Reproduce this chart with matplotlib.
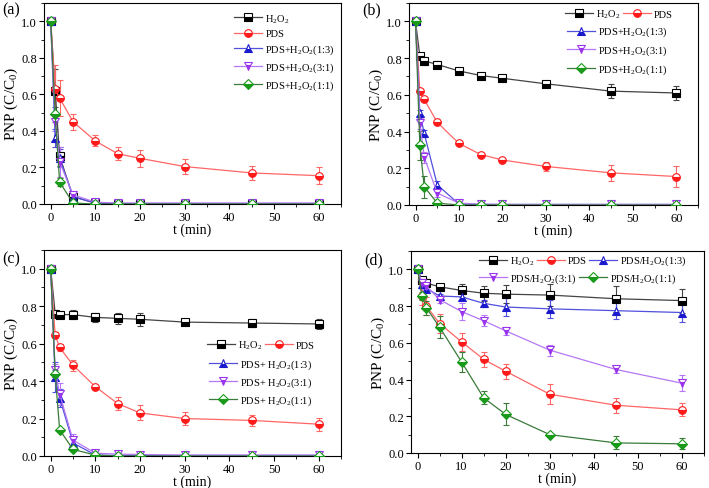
import numpy as np
import matplotlib
matplotlib.use('Agg')
import matplotlib.pyplot as plt
from matplotlib.ticker import MultipleLocator, FormatStrFormatter

plt.rcParams['font.family'] = ['Liberation Serif', 'DejaVu Serif']
plt.rcParams['mathtext.fontset'] = 'custom'
plt.rcParams['mathtext.rm'] = 'Liberation Serif'
plt.rcParams['mathtext.it'] = 'Liberation Serif:italic'

t = [0, 1, 2, 5, 10, 15, 20, 30, 45, 60]

# panel (a)
a_h2o2 = [1.0, 0.62, 0.26, 0.04, 0.005, 0.0, 0.0, 0.0, 0.0, 0.0]
a_h2o2_err = [0, 0.12, 0.05, 0.01, 0, 0, 0, 0, 0, 0]
a_pds = [1.0, 0.63, 0.58, 0.45, 0.345, 0.275, 0.25, 0.205, 0.17, 0.155]
a_pds_err = [0, 0.13, 0.10, 0.045, 0.03, 0.035, 0.045, 0.04, 0.04, 0.045]
a_13 = [1.0, 0.36, 0.25, 0.04, 0.005, 0.003, 0.003, 0.003, 0.003, 0.003]
a_13_err = [0, 0.05, 0.05, 0.01, 0, 0, 0, 0, 0, 0]
a_31 = [1.0, 0.45, 0.23, 0.05, 0.01, 0.005, 0.005, 0.005, 0.005, 0.005]
a_31_err = [0, 0.05, 0.08, 0.01, 0.005, 0, 0, 0, 0, 0]
a_11 = [1.0, 0.49, 0.12, 0.005, 0.0, 0.0, 0.0, 0.0, 0.0, 0.0]
a_11_err = [0, 0.04, 0.02, 0, 0, 0, 0, 0, 0, 0]

# panel (b)
b_h2o2 = [1.0, 0.81, 0.785, 0.765, 0.73, 0.705, 0.69, 0.66, 0.62, 0.61]
b_h2o2_err = [0, 0.02, 0.02, 0.02, 0.015, 0.01, 0.01, 0.01, 0.04, 0.04]
b_pds = [1.0, 0.62, 0.575, 0.45, 0.335, 0.275, 0.245, 0.21, 0.175, 0.155]
b_pds_err = [0, 0.01, 0.01, 0.01, 0.01, 0.01, 0.01, 0.025, 0.045, 0.055]
b_13 = [1.0, 0.50, 0.39, 0.11, 0.005, 0.003, 0.003, 0.003, 0.003, 0.003]
b_13_err = [0, 0.02, 0.02, 0.02, 0.005, 0, 0, 0, 0, 0]
b_31 = [1.0, 0.445, 0.26, 0.065, 0.01, 0.005, 0.003, 0.003, 0.003, 0.003]
b_31_err = [0, 0.03, 0.03, 0.02, 0.005, 0, 0, 0, 0, 0]
b_11 = [1.0, 0.325, 0.10, 0.01, 0.0, 0.0, 0.0, 0.0, 0.0, 0.0]
b_11_err = [0, 0.08, 0.06, 0.005, 0, 0, 0, 0, 0, 0]

# panel (c)
c_h2o2 = [1.0, 0.76, 0.755, 0.755, 0.74, 0.735, 0.73, 0.715, 0.71, 0.705]
c_h2o2_err = [0, 0.02, 0.02, 0.025, 0.025, 0.03, 0.035, 0.015, 0.02, 0.025]
c_pds = [1.0, 0.645, 0.58, 0.485, 0.37, 0.28, 0.23, 0.20, 0.19, 0.17]
c_pds_err = [0, 0.015, 0.02, 0.03, 0.01, 0.035, 0.04, 0.035, 0.03, 0.035]
c_13 = [1.0, 0.42, 0.31, 0.07, 0.005, 0.003, 0.003, 0.003, 0.003, 0.003]
c_13_err = [0, 0.08, 0.05, 0.02, 0.005, 0, 0, 0, 0, 0]
c_31 = [1.0, 0.46, 0.33, 0.085, 0.015, 0.01, 0.008, 0.005, 0.005, 0.005]
c_31_err = [0, 0.03, 0.06, 0.03, 0.01, 0.005, 0.005, 0, 0, 0]
c_11 = [1.0, 0.44, 0.14, 0.035, 0.005, 0.0, 0.0, 0.0, 0.0, 0.0]
c_11_err = [0, 0.02, 0.01, 0.01, 0, 0, 0, 0, 0, 0]

# panel (d)
d_h2o2 = [1.0, 0.94, 0.925, 0.905, 0.885, 0.87, 0.865, 0.86, 0.84, 0.83]
d_h2o2_err = [0, 0.02, 0.02, 0.01, 0.035, 0.04, 0.05, 0.06, 0.07, 0.065]
d_pds = [1.0, 0.855, 0.80, 0.705, 0.605, 0.51, 0.445, 0.32, 0.26, 0.235]
d_pds_err = [0, 0.05, 0.05, 0.05, 0.05, 0.04, 0.04, 0.055, 0.04, 0.035]
d_13 = [1.0, 0.92, 0.895, 0.855, 0.85, 0.815, 0.795, 0.785, 0.775, 0.765]
d_13_err = [0, 0.02, 0.02, 0.01, 0.015, 0.02, 0.05, 0.05, 0.045, 0.05]
d_31 = [1.0, 0.925, 0.91, 0.835, 0.77, 0.72, 0.665, 0.56, 0.455, 0.38]
d_31_err = [0, 0.03, 0.02, 0.02, 0.045, 0.03, 0.02, 0.03, 0.02, 0.045]
d_11 = [1.0, 0.855, 0.79, 0.685, 0.495, 0.30, 0.21, 0.10, 0.055, 0.05]
d_11_err = [0, 0.02, 0.04, 0.06, 0.055, 0.035, 0.06, 0.01, 0.035, 0.03]

colors = ['#000000', '#ff1a1a', '#1a1acc', '#9a33ee', '#1a9a1a']
line_colors = ['#444444', '#ff6666', '#5050dd', '#b577f5', '#3a7a3a']
markers = ['s', 'o', '^', 'v', 'D']

labels_plus = [r'H$_2$O$_2$', 'PDS', r'PDS+H$_2$O$_2$(1:3)', r'PDS+H$_2$O$_2$(3:1)', r'PDS+H$_2$O$_2$(1:1)']
labels_sp = [r'H$_2$O$_2$', 'PDS', r'PDS+ H$_2$O$_2$(1:3)', r'PDS+ H$_2$O$_2$(3:1)', r'PDS+ H$_2$O$_2$(1:1)']
labels_sl = [r'H$_2$O$_2$', 'PDS', r'PDS/H$_2$O$_2$(1:3)', r'PDS/H$_2$O$_2$(3:1)', r'PDS/H$_2$O$_2$(1:1)']

W, H = 709, 489
fig = plt.figure(figsize=(W / 100, H / 100), dpi=100)

# axes boxes in pixels: left, top, right, bottom
boxes = [(44, 4, 341, 205), (409, 4, 698, 206), (44, 251, 341, 457), (411, 252, 704, 454)]
tag_pos = [(2, 2), (362, 2), (2, 251), (364, 252)]

panels = [
    ('(a)', [a_h2o2, a_pds, a_13, a_31, a_11], [a_h2o2_err, a_pds_err, a_13_err, a_31_err, a_11_err]),
    ('(b)', [b_h2o2, b_pds, b_13, b_31, b_11], [b_h2o2_err, b_pds_err, b_13_err, b_31_err, b_11_err]),
    ('(c)', [c_h2o2, c_pds, c_13, c_31, c_11], [c_h2o2_err, c_pds_err, c_13_err, c_31_err, c_11_err]),
    ('(d)', [d_h2o2, d_pds, d_13, d_31, d_11], [d_h2o2_err, d_pds_err, d_13_err, d_31_err, d_11_err]),
]

leg_kw = dict(frameon=False, fontsize=7.5, handlelength=2.7, handletextpad=0.3,
              borderpad=0, borderaxespad=0, columnspacing=0.2, loc='upper left')


def frac(ax_box, px, py):
    l, tp, r, b = ax_box
    return ((px - l) / (r - l), (b - py) / (b - tp))


for i, (tag, series, errs) in enumerate(panels):
    l, tp, r, b = boxes[i]
    ax = fig.add_axes([l / W, 1 - b / H, (r - l) / W, (b - tp) / H])
    handles = []
    for j in range(5):
        ax.errorbar(t, series[j], yerr=errs[j], fmt='none', ecolor=line_colors[j],
                    elinewidth=0.8, capsize=2, capthick=0.8, zorder=2)
        h, = ax.plot(t, series[j], color=line_colors[j], lw=0.9, marker=markers[j],
                     markersize=5.5 if markers[j] != 'D' else 4.8,
                     markerfacecolor=colors[j], markerfacecoloralt='white',
                     fillstyle='bottom', markeredgecolor=colors[j], markeredgewidth=0.8,
                     zorder=3)
        handles.append(h)
    ax.set_xlim(-1.5, 65)
    ax.set_ylim(0, 1.1)
    ax.xaxis.set_major_locator(MultipleLocator(10))
    ax.xaxis.set_minor_locator(MultipleLocator(5))
    ax.yaxis.set_major_locator(MultipleLocator(0.2))
    ax.yaxis.set_minor_locator(MultipleLocator(0.1))
    ax.yaxis.set_major_formatter(FormatStrFormatter('%.1f'))
    ax.tick_params(which='both', direction='out', labelsize=9, pad=1.5)
    ax.tick_params(which='major', length=3.5)
    ax.tick_params(which='minor', length=2)
    ax.set_xlabel('t (min)', fontsize=10, labelpad=0)
    ax.set_ylabel(r'PNP (C/C$_0$)', fontsize=11, labelpad=1)
    for sp in ax.spines.values():
        sp.set_linewidth(0.8)
    fig.text(tag_pos[i][0] / W, 1 - tag_pos[i][1] / H, tag, fontsize=11.5, va='top')

    if i == 0:
        ax.legend(handles, labels_plus, bbox_to_anchor=frac(boxes[0], 234, 13),
                  labelspacing=0.42, **leg_kw)
    elif i == 1:
        leg1 = ax.legend(handles[:2], labels_plus[:2], ncol=2,
                         bbox_to_anchor=frac(boxes[1], 565, 9), **leg_kw)
        ax.add_artist(leg1)
        ax.legend(handles[2:], labels_plus[2:], bbox_to_anchor=frac(boxes[1], 567, 26),
                  labelspacing=0.5, **leg_kw)
    elif i == 2:
        leg1 = ax.legend(handles[:2], labels_sp[:2], ncol=2,
                         bbox_to_anchor=frac(boxes[2], 207, 340), **leg_kw)
        ax.add_artist(leg1)
        ax.legend(handles[2:], labels_sp[2:], bbox_to_anchor=frac(boxes[2], 209, 358),
                  labelspacing=0.45, **leg_kw)
    else:
        leg1 = ax.legend(handles[:3], labels_sl[:3], ncol=3,
                         bbox_to_anchor=frac(boxes[3], 479, 255), **leg_kw)
        ax.add_artist(leg1)
        ax.legend(handles[3:], labels_sl[3:], ncol=2,
                  bbox_to_anchor=frac(boxes[3], 479, 272), **leg_kw)

fig.savefig('out.png', dpi=100)
